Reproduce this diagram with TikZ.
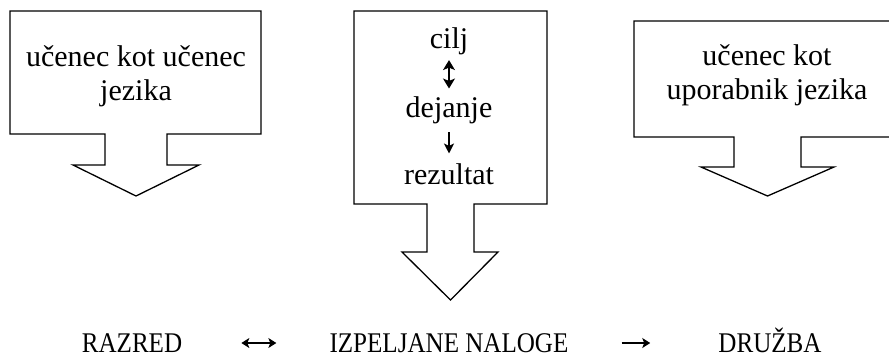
\documentclass[tikz,border=0pt]{standalone}
\usepackage{fontspec}
\setmainfont{Liberation Serif}
\newfontfamily\narrowserif[FakeStretch=0.88]{Liberation Serif}
\usetikzlibrary{arrows.meta}

\begin{document}
\begin{tikzpicture}[
    x=1pt, y=-1pt,
    callbox/.style={draw, line width=1.3pt, line join=miter},
    boxtext/.style={font=\fontsize{30}{34}\selectfont, align=center, inner sep=0pt},
    rowtext/.style={font=\narrowserif\fontsize{28.5}{30}\selectfont, inner sep=0pt, anchor=base},
    midarrow/.style={line width=1.2pt},
    rowarrow/.style={line width=1.1pt},
]
    \useasboundingbox (0,0) rectangle (889,357);
    \clip (0,0) rectangle (889,357);

    % Boxes with arrows
    \draw[callbox] (10,11) -- (261,11) -- (261,134) -- (167,134) -- (167,165) -- (199,165)
        -- (136,196) -- (73,165) -- (105,165) -- (105,134) -- (10,134) -- cycle;
    \draw[callbox] (354,11) -- (547,11) -- (547,204) -- (474,204) -- (474,252) -- (498,252)
        -- (450.5,300) -- (402,252) -- (427,252) -- (427,204) -- (354,204) -- cycle;
    \draw[callbox] (634,21) -- (900,21) -- (900,137) -- (801,137) -- (801,167) -- (834,167)
        -- (767.5,196) -- (701,167) -- (734,167) -- (734,137) -- (634,137) -- cycle;

    % Box texts
    \node[boxtext] (learner) at (136,76.5) {učenec kot učenec\\jezika};
    \node[boxtext] (user) at (767,75.5) {učenec kot\\uporabnik jezika};

    \node[boxtext, anchor=base] (goal) at (449,48) {cilj};
    \node[boxtext, anchor=base] (action) at (449,117) {dejanje};
    \node[boxtext, anchor=base] (result) at (449,184) {rezultat};

    \draw[midarrow, {Stealth[length=10pt, width=12pt, inset=2.5pt]}-{Stealth[length=10pt, width=12pt, inset=2.5pt]},
        shorten <=5.5pt, shorten >=7.5pt] (goal.south) -- (action.north);
    \draw[midarrow, -{Stealth[length=10pt, width=10pt, inset=2.5pt]},
        shorten <=8.5pt, shorten >=9.5pt] (action.south) -- (result.north);

    % Bottom row
    \node[rowtext] (class) at (132,352) {RAZRED};
    \node[rowtext] (tasks) at (449,352) {IZPELJANE NALOGE};
    \node[rowtext] (society) at (770,352) {DRUŽBA};

    \draw[rowarrow, {Stealth[length=8pt, width=10pt, inset=2pt]}-{Stealth[length=8pt, width=10pt, inset=2pt]},
        shorten <=59pt, shorten >=53pt] ([yshift=9pt]class.base east) -- ([yshift=9pt]tasks.base west);
    \draw[rowarrow, -{Stealth[length=8pt, width=10pt, inset=2pt]},
        shorten <=53pt, shorten >=68pt] ([yshift=9pt]tasks.base east) -- ([yshift=9pt]society.base west);
\end{tikzpicture}
\end{document}
